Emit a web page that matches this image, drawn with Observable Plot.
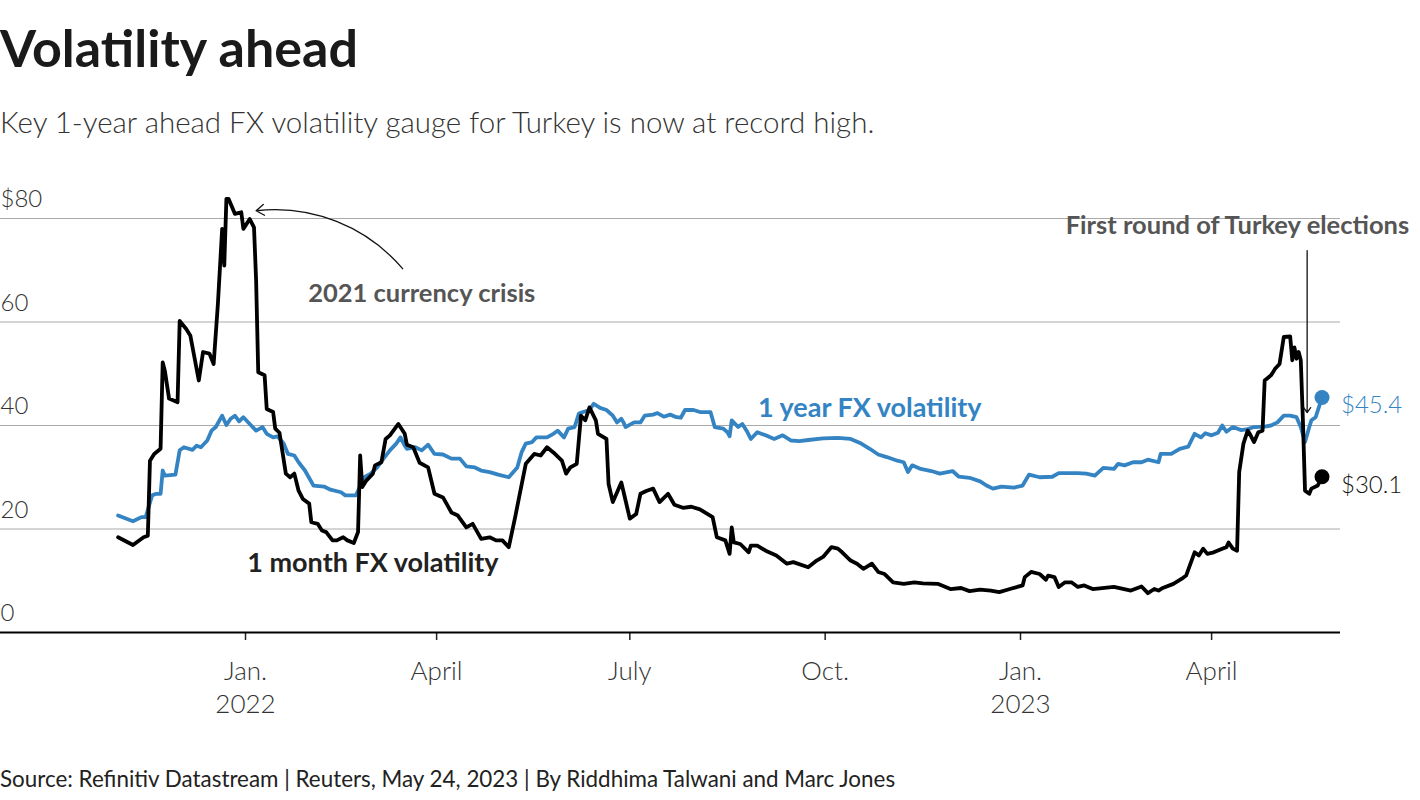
<!DOCTYPE html>
<html><head><meta charset="utf-8">
<script src="https://cdn.jsdelivr.net/npm/d3@7"></script>
<script src="https://cdn.jsdelivr.net/npm/@observablehq/plot@0.6"></script>
<style>
body{margin:0;background:#fff;width:1420px;height:800px;position:relative;overflow:hidden;font-family:Lato,sans-serif;}
#title{position:absolute;left:0;top:21px;font-size:52px;font-weight:700;line-height:1;color:#1a1a1a;white-space:nowrap;}
#subtitle{position:absolute;left:0;top:107px;font-size:29.5px;font-weight:300;line-height:1;color:#333;white-space:nowrap;}
#chart{position:absolute;left:0;top:160px;}
#caption{position:absolute;left:0;top:768px;font-size:22.4px;line-height:1;color:#222;white-space:nowrap;}
</style></head>
<body>
<div id="title">Volatility ahead</div>
<div id="subtitle">Key 1-year ahead FX volatility gauge for Turkey is now at record high.</div>
<div id="chart"></div>
<div id="caption">Source: Refinitiv Datastream | Reuters, May 24, 2023 | By Riddhima Talwani and Marc Jones</div>
<script>
// ---- data ----
const oneMonthDates = ["2021-11-02","2021-11-09","2021-11-14","2021-11-16","2021-11-17","2021-11-19","2021-11-22","2021-11-23","2021-11-24","2021-11-26","2021-11-30","2021-12-01","2021-12-04","2021-12-06","2021-12-10","2021-12-12","2021-12-15","2021-12-17","2021-12-19","2021-12-21","2021-12-22","2021-12-23","2021-12-24","2021-12-27","2021-12-30","2021-12-31","2022-01-03","2022-01-05","2022-01-06","2022-01-07","2022-01-10","2022-01-11","2022-01-14","2022-01-15","2022-01-17","2022-01-20","2022-01-22","2022-01-24","2022-01-26","2022-01-28","2022-01-31","2022-02-01","2022-02-04","2022-02-06","2022-02-08","2022-02-11","2022-02-13","2022-02-16","2022-02-18","2022-02-21","2022-02-23","2022-02-24","2022-02-25","2022-02-27","2022-03-02","2022-03-03","2022-03-06","2022-03-08","2022-03-10","2022-03-14","2022-03-17","2022-03-18","2022-03-21","2022-03-24","2022-03-28","2022-03-31","2022-04-04","2022-04-08","2022-04-11","2022-04-15","2022-04-18","2022-04-22","2022-04-26","2022-04-29","2022-05-02","2022-05-05","2022-05-08","2022-05-13","2022-05-17","2022-05-20","2022-05-23","2022-05-26","2022-05-30","2022-06-01","2022-06-03","2022-06-06","2022-06-08","2022-06-10","2022-06-12","2022-06-15","2022-06-16","2022-06-20","2022-06-21","2022-06-23","2022-06-27","2022-06-29","2022-07-01","2022-07-04","2022-07-06","2022-07-09","2022-07-12","2022-07-15","2022-07-19","2022-07-22","2022-07-26","2022-07-30","2022-08-03","2022-08-09","2022-08-11","2022-08-15","2022-08-17","2022-08-18","2022-08-19","2022-08-22","2022-08-26","2022-08-27","2022-08-30","2022-09-03","2022-09-08","2022-09-13","2022-09-16","2022-09-23","2022-09-27","2022-09-30","2022-10-04","2022-10-07","2022-10-09","2022-10-13","2022-10-16","2022-10-19","2022-10-23","2022-10-26","2022-10-29","2022-11-02","2022-11-07","2022-11-12","2022-11-16","2022-11-23","2022-11-29","2022-12-04","2022-12-08","2022-12-13","2022-12-18","2022-12-22","2022-12-27","2023-01-02","2023-01-03","2023-01-06","2023-01-10","2023-01-13","2023-01-14","2023-01-17","2023-01-19","2023-01-22","2023-01-25","2023-01-28","2023-01-31","2023-02-04","2023-02-14","2023-02-22","2023-02-27","2023-03-02","2023-03-05","2023-03-07","2023-03-09","2023-03-14","2023-03-18","2023-03-20","2023-03-24","2023-03-26","2023-03-28","2023-03-30","2023-04-02","2023-04-06","2023-04-08","2023-04-09","2023-04-11","2023-04-13","2023-04-14","2023-04-16","2023-04-18","2023-04-19","2023-04-21","2023-04-23","2023-04-25","2023-04-26","2023-04-29","2023-05-01","2023-05-03","2023-05-05","2023-05-08","2023-05-09","2023-05-10","2023-05-11","2023-05-12","2023-05-13","2023-05-14","2023-05-15","2023-05-17","2023-05-18","2023-05-21","2023-05-23"];
const oneMonthValues = [18.4,16.9,18.4,18.7,33.2,34.5,35.5,52.2,50.6,45.2,44.5,60.2,58.7,57.4,48.7,54.2,53.9,51.9,63.5,78.0,70.9,83.8,83.8,80.9,81.2,78.0,79.9,78.3,68.0,50.3,49.7,43.2,42.6,39.4,38.6,30.7,30.0,30.7,27.4,25.8,24.9,21.3,21.0,19.7,19.4,17.8,17.8,18.4,17.8,17.3,19.4,34.2,28.1,29.4,30.7,32.3,32.9,37.4,38.1,40.3,38.4,36.3,35.8,32.8,31.9,26.8,26.1,23.2,22.6,20.3,21.0,18.1,18.4,17.8,17.8,16.5,22.3,32.6,34.5,34.2,35.8,34.8,33.2,30.7,31.9,32.6,41.9,41.0,43.5,41.0,38.4,37.4,28.7,25.2,29.0,25.5,22.0,22.9,26.8,27.4,27.8,25.2,26.8,24.7,24.1,24.3,23.8,22.3,18.4,17.8,15.2,20.3,17.4,17.1,15.5,16.8,16.8,15.8,14.9,13.3,13.6,12.6,13.9,14.6,16.5,16.2,15.5,13.9,13.3,12.3,13.3,11.7,11.3,9.7,9.4,9.7,9.5,9.4,8.4,8.6,8.0,8.3,8.1,7.8,8.4,9.1,10.7,11.7,11.3,10.2,11.0,10.7,8.8,9.7,9.7,8.8,9.1,8.4,8.8,8.1,8.9,7.6,8.4,8.1,8.6,9.4,10.4,11.0,15.5,14.9,16.2,15.2,15.5,16.2,16.5,17.4,16.2,15.8,31.0,36.5,39.0,38.4,36.8,38.7,39.0,48.7,49.7,51.0,51.9,57.1,57.2,52.6,55.1,52.9,54.2,52.6,41.0,27.4,26.8,27.8,28.4,30.1];

const oneYearDates = ["2021-11-02","2021-11-09","2021-11-13","2021-11-15","2021-11-18","2021-11-20","2021-11-22","2021-11-23","2021-11-24","2021-11-29","2021-12-01","2021-12-03","2021-12-07","2021-12-09","2021-12-11","2021-12-14","2021-12-16","2021-12-18","2021-12-21","2021-12-23","2021-12-25","2021-12-27","2021-12-29","2021-12-31","2022-01-03","2022-01-06","2022-01-09","2022-01-11","2022-01-14","2022-01-16","2022-01-19","2022-01-21","2022-01-24","2022-01-26","2022-01-29","2022-02-02","2022-02-07","2022-02-10","2022-02-15","2022-02-17","2022-02-22","2022-02-23","2022-02-26","2022-03-01","2022-03-04","2022-03-07","2022-03-10","2022-03-13","2022-03-15","2022-03-17","2022-03-18","2022-03-22","2022-03-25","2022-03-28","2022-03-31","2022-04-04","2022-04-08","2022-04-12","2022-04-15","2022-04-19","2022-04-22","2022-04-26","2022-04-30","2022-05-05","2022-05-09","2022-05-11","2022-05-13","2022-05-16","2022-05-18","2022-05-23","2022-05-26","2022-05-28","2022-05-31","2022-06-02","2022-06-05","2022-06-07","2022-06-09","2022-06-12","2022-06-14","2022-06-17","2022-06-20","2022-06-23","2022-06-25","2022-06-27","2022-06-28","2022-06-29","2022-07-03","2022-07-06","2022-07-08","2022-07-12","2022-07-14","2022-07-17","2022-07-20","2022-07-23","2022-07-25","2022-07-27","2022-07-31","2022-08-03","2022-08-08","2022-08-10","2022-08-14","2022-08-16","2022-08-17","2022-08-18","2022-08-21","2022-08-23","2022-08-25","2022-08-27","2022-08-30","2022-09-03","2022-09-07","2022-09-11","2022-09-15","2022-09-19","2022-09-23","2022-09-30","2022-10-07","2022-10-13","2022-10-18","2022-10-22","2022-10-26","2022-10-30","2022-11-04","2022-11-07","2022-11-09","2022-11-11","2022-11-15","2022-11-20","2022-11-24","2022-11-30","2022-12-03","2022-12-08","2022-12-13","2022-12-16","2022-12-19","2022-12-23","2022-12-29","2023-01-02","2023-01-05","2023-01-10","2023-01-16","2023-01-19","2023-01-28","2023-02-01","2023-02-05","2023-02-09","2023-02-14","2023-02-16","2023-02-19","2023-02-23","2023-02-27","2023-03-02","2023-03-07","2023-03-08","2023-03-13","2023-03-17","2023-03-21","2023-03-24","2023-03-27","2023-03-29","2023-04-01","2023-04-04","2023-04-06","2023-04-08","2023-04-11","2023-04-15","2023-04-18","2023-04-21","2023-04-26","2023-04-29","2023-05-02","2023-05-05","2023-05-08","2023-05-11","2023-05-13","2023-05-15","2023-05-17","2023-05-18","2023-05-20","2023-05-23"];
const oneYearValues = [22.6,21.5,22.3,22.3,26.5,26.8,26.8,31.3,30.3,30.5,35.2,35.8,35.3,36.1,35.8,37.1,39.0,39.7,41.9,40.1,41.3,41.9,40.8,41.6,40.3,39.0,39.7,38.4,37.7,37.9,36.5,34.5,34.2,32.9,31.3,28.4,28.2,27.6,27.1,26.5,26.5,27.4,30.0,30.7,31.9,33.6,35.2,36.5,37.7,36.1,35.5,35.8,35.2,36.3,34.5,34.4,33.6,33.6,32.1,31.9,31.3,31.0,30.5,30.0,31.9,34.8,36.5,36.8,37.7,37.7,38.4,39.0,37.7,39.4,39.7,42.3,42.6,43.0,44.2,43.4,43.0,41.9,40.6,41.3,40.6,39.7,40.6,40.6,41.9,42.1,42.4,41.7,42.1,41.6,41.5,43.0,43.0,42.6,42.6,39.7,39.4,38.7,37.9,41.0,39.7,40.3,39.0,37.4,38.7,38.1,37.4,38.1,37.1,37.0,37.2,37.5,37.6,37.4,36.5,35.5,34.4,33.9,33.2,32.9,31.0,32.3,31.6,31.2,30.7,31.2,30.1,29.9,29.2,28.4,27.8,28.2,28.0,28.4,30.5,30.0,30.1,30.8,30.8,30.7,30.3,31.8,31.6,32.6,32.3,32.9,32.9,33.4,32.9,34.5,34.5,35.5,35.9,38.4,37.7,38.5,38.1,38.6,40.0,38.8,39.7,39.1,39.3,39.7,39.8,40.0,40.6,41.9,41.9,41.6,39.7,36.8,39.7,41.0,41.6,45.4];

const yTicks = [0, 20, 40, 60, 80];
const yTickLabels = ["0", "20", "40", "60", "$80"];
const xTickDates = ["2022-01-01", "2022-04-01", "2022-07-01", "2022-10-01", "2023-01-01", "2023-04-01"];
const xTickLabels = ["Jan.\n2022", "April", "July", "Oct.", "Jan.\n2023", "April"];

const seriesNames = ["1 year FX volatility", "1 month FX volatility"];
const seriesLabelDates = ["2022-10-22", "2022-03-02"];
const seriesLabelValues = [43.3, 13.3];

const crisisLabel = "2021 currency crisis";
const crisisLabelDate = "2022-03-25", crisisLabelValue = 65.5;
const crisisArrowFrom = ["2022-03-16", 70.3];
const crisisArrowTo = ["2022-01-06", 81.5];

const electionLabel = "First round of Turkey elections";
const electionDate = "2023-05-16";
const electionArrowTop = 73.8, electionArrowBottom = 42.5;
const electionLabelValue = 78.5;

const BLUE = "#3484c4";
const BLACK = "#000000";

// ---- build tables ----
const parse = (s) => new Date(s + "T00:00:00Z");
const oneMonth = oneMonthDates.map((d, i) => ({date: parse(d), value: oneMonthValues[i]}));
const oneYear = oneYearDates.map((d, i) => ({date: parse(d), value: oneYearValues[i]}));
const xTicks = xTickDates.map(parse);
const lastMonth = oneMonth[oneMonth.length - 1];
const lastYear = oneYear[oneYear.length - 1];

const seriesLabels = seriesNames.map((n, i) => ({name: n, date: parse(seriesLabelDates[i]), value: seriesLabelValues[i], color: i === 0 ? BLUE : "#222"}));

const chart = Plot.plot({
  width: 1420,
  height: 572,
  marginLeft: 0,
  marginRight: 80,
  marginTop: 58,
  marginBottom: 100,
  style: {fontFamily: "Lato, sans-serif", background: "transparent", overflow: "visible"},
  x: {type: "utc", domain: [new Date("2021-09-07T14:40:00Z"), new Date("2023-05-31T17:00:00Z")], label: null},
  y: {domain: [0, 80], label: null},
  marks: [
    Plot.gridY(yTicks.filter(d => d > 0), {stroke: "#aaa", strokeOpacity: 1, strokeWidth: 1}),
    Plot.axisY(yTicks, {anchor: "left", tickSize: 0, tickPadding: 0, textAnchor: "start", dy: -19,
      fontSize: 24, fontWeight: 300, fill: "#333", label: null,
      tickFormat: d => yTickLabels[yTicks.indexOf(d)]}),
    Plot.axisX(xTicks, {anchor: "bottom", tickSize: 8, tickPadding: 15, fontSize: 26, fontWeight: 300,
      lineHeight: 1.3, fill: "#333", stroke: "#222", strokeWidth: 1.5, label: null,
      tickFormat: d => xTickLabels[xTicks.findIndex(t => +t === +d)]}),
    Plot.ruleY([0], {stroke: "#000", strokeWidth: 2}),
    Plot.line(oneYear, {x: "date", y: "value", stroke: BLUE, strokeWidth: 3.8}),
    Plot.line(oneMonth, {x: "date", y: "value", stroke: BLACK, strokeWidth: 3.8}),
    Plot.dot([lastYear], {x: "date", y: "value", r: 7.5, fill: BLUE}),
    Plot.dot([lastMonth], {x: "date", y: "value", r: 7.5, fill: BLACK}),
    Plot.text([lastYear], {x: "date", y: "value", text: d => "$" + d.value.toFixed(1), dx: 19, dy: 8,
      textAnchor: "start", fill: BLUE, fontSize: 24, fontWeight: 300}),
    Plot.text([lastMonth], {x: "date", y: "value", text: d => "$" + d.value.toFixed(1), dx: 19, dy: 9,
      textAnchor: "start", fill: "#111", fontSize: 24, fontWeight: 300}),
    Plot.text(seriesLabels, {x: "date", y: "value", text: "name", fill: "color", fontSize: 27, fontWeight: 700}),
    Plot.arrow([{x1: parse(crisisArrowFrom[0]), y1: crisisArrowFrom[1], x2: parse(crisisArrowTo[0]), y2: crisisArrowTo[1]}],
      {x1: "x1", y1: "y1", x2: "x2", y2: "y2", bend: -28, headLength: 11, headAngle: 70, stroke: "#111", strokeWidth: 1.3}),
    Plot.text([{date: parse(crisisLabelDate), value: crisisLabelValue}], {x: "date", y: "value", text: [crisisLabel],
      fill: "#555", fontSize: 25.5, fontWeight: 700}),
    Plot.arrow([{x: parse(electionDate), y1: electionArrowTop, y2: electionArrowBottom}],
      {x1: "x", x2: "x", y1: "y1", y2: "y2", headLength: 7, headAngle: 70, stroke: "#111", strokeWidth: 1.3}),
    Plot.text([{date: parse(electionDate), value: electionLabelValue}], {x: "date", y: "value", text: [electionLabel],
      textAnchor: "end", dx: 102, fill: "#555", fontSize: 25.5, fontWeight: 700})
  ]
});
document.getElementById("chart").appendChild(chart);
</script>
</body></html>
